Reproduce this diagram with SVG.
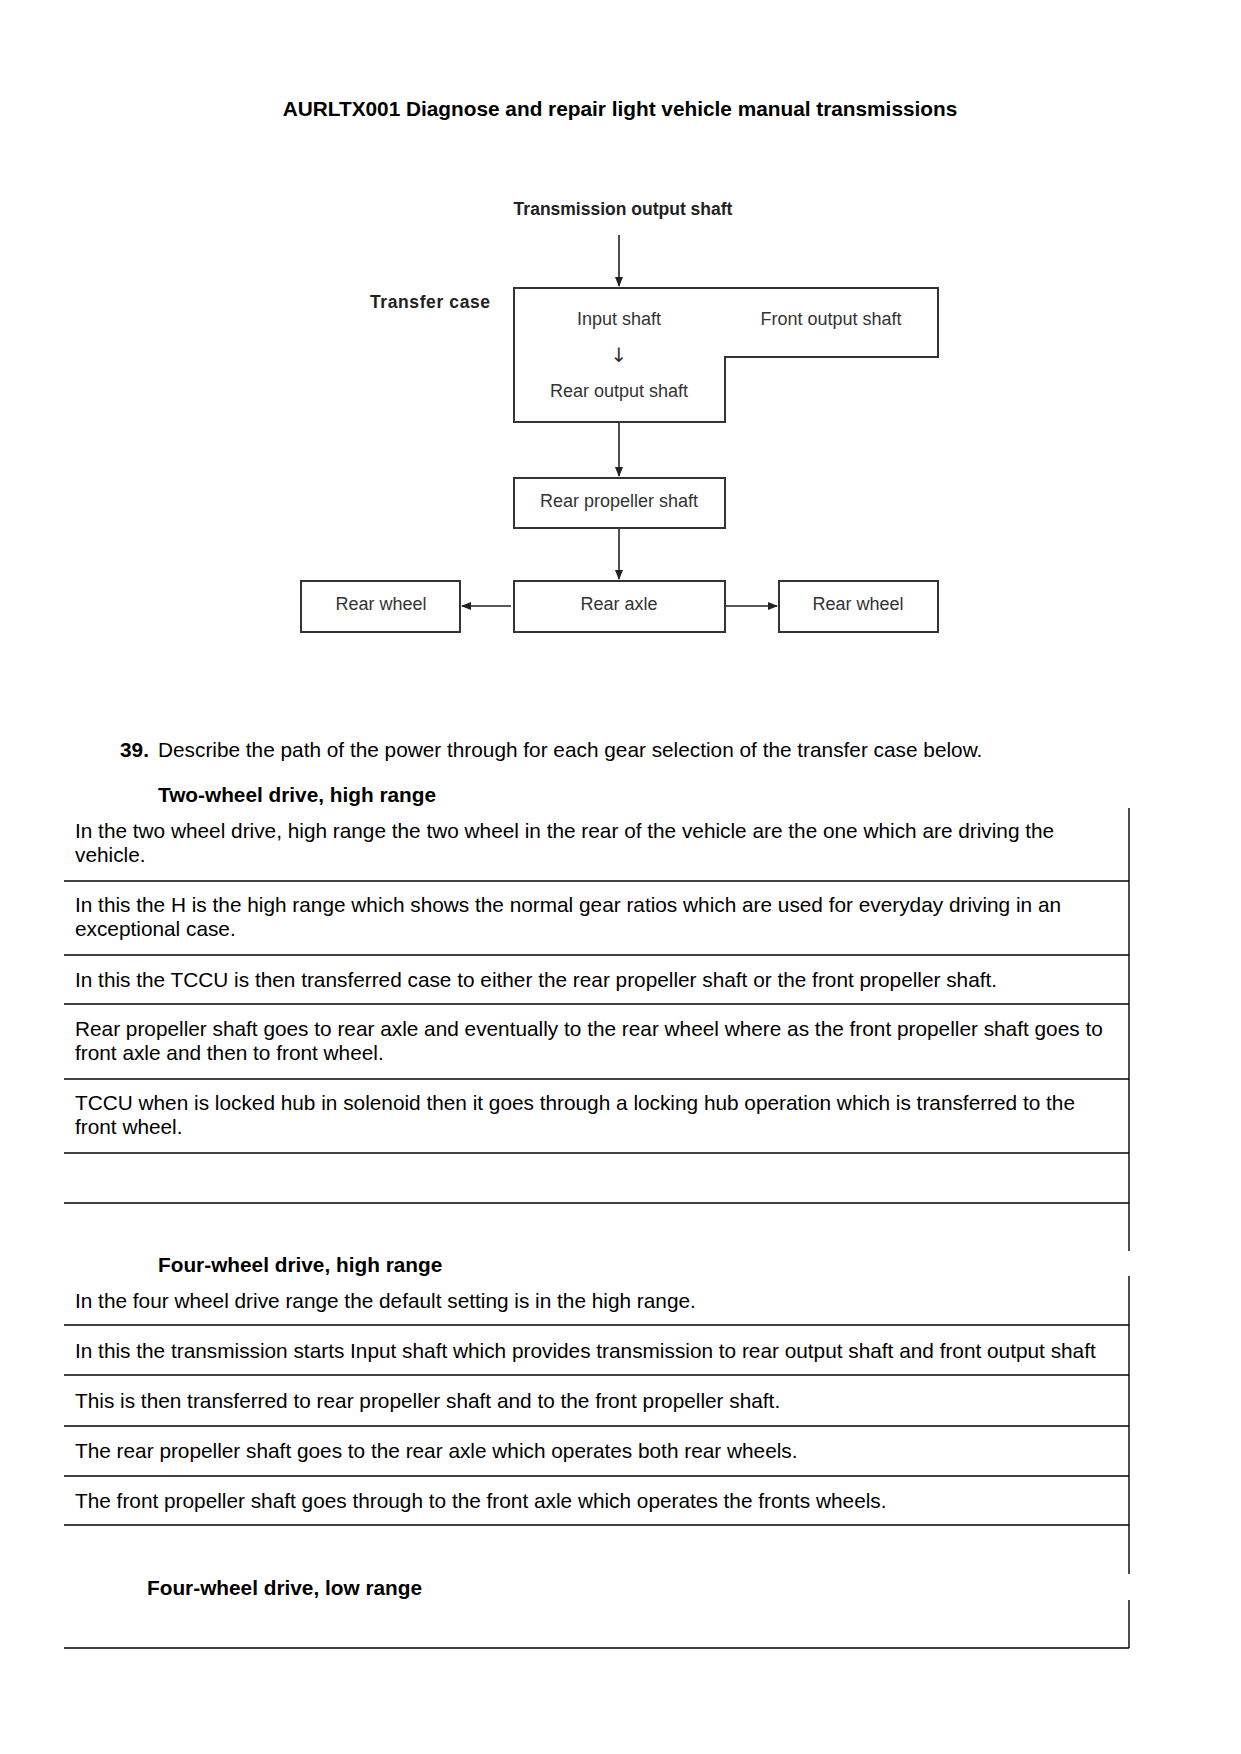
<svg xmlns="http://www.w3.org/2000/svg" width="1241" height="1754" viewBox="0 0 1241 1754">
<style>
.title{font-family:"Liberation Sans",Arial,sans-serif;font-weight:bold;font-size:20.8px;fill:#000}
.body{font-family:"Liberation Sans",Arial,sans-serif;font-size:20.8px;fill:#000}
.bold{font-family:"Liberation Sans",Arial,sans-serif;font-weight:bold;font-size:20.8px;fill:#000}
.dl{font-family:"Liberation Sans",Arial,sans-serif;font-size:18px;fill:#333}
.db{font-family:"Liberation Sans",Arial,sans-serif;font-weight:bold;font-size:17.5px;fill:#222}
.box{fill:none;stroke:#333;stroke-width:2}
.conn{stroke:#222;stroke-width:1.6;fill:none}
.rule{stroke:#000;stroke-width:1.4}
</style>
<defs>
<marker id="ah" markerWidth="10" markerHeight="8" refX="9" refY="4" orient="auto" markerUnits="userSpaceOnUse">
<path d="M0,0 L10,4 L0,8 z" fill="#222"/>
</marker>
</defs>
<rect width="1241" height="1754" fill="#fff"/>
<text class="title" x="620" y="116" text-anchor="middle">AURLTX001 Diagnose and repair light vehicle manual transmissions</text>

<g id="label-transmission"><text class="db" x="623" y="215" text-anchor="middle">Transmission output shaft</text></g>
<g id="label-transfer"><text class="db" x="370" y="308" letter-spacing="0.6">Transfer  case</text></g>
<g id="transfer-case">
<path class="box" d="M514,288 H938 V357 H725 V422 H514 Z"/>
<text class="dl" x="619" y="325" text-anchor="middle">Input shaft</text>
<text x="619" y="362" text-anchor="middle" style="font-family:'DejaVu Sans',sans-serif;font-size:20px;fill:#333">↓</text>
<text class="dl" x="619" y="397" text-anchor="middle">Rear output shaft</text>
<text class="dl" x="831" y="325" text-anchor="middle">Front output shaft</text>
</g>
<g id="rear-propeller"><rect class="box" x="514" y="478" width="211" height="50"/><text class="dl" x="619" y="507" text-anchor="middle">Rear propeller shaft</text></g>
<g id="rear-axle"><rect class="box" x="514" y="581" width="211" height="51"/><text class="dl" x="619" y="610" text-anchor="middle">Rear axle</text></g>
<g id="rear-wheel-left"><rect class="box" x="301" y="581" width="159" height="51"/><text class="dl" x="381" y="610" text-anchor="middle">Rear wheel</text></g>
<g id="rear-wheel-right"><rect class="box" x="779" y="581" width="159" height="51"/><text class="dl" x="858" y="610" text-anchor="middle">Rear wheel</text></g>
<g id="connectors">
<line class="conn" x1="619" y1="235" x2="619" y2="286" marker-end="url(#ah)"/>
<line class="conn" x1="619" y1="423" x2="619" y2="476" marker-end="url(#ah)"/>
<line class="conn" x1="619" y1="529" x2="619" y2="579" marker-end="url(#ah)"/>
<line class="conn" x1="511" y1="606" x2="462" y2="606" marker-end="url(#ah)"/>
<line class="conn" x1="726" y1="606" x2="777" y2="606" marker-end="url(#ah)"/>
</g>

<text class="bold" x="120" y="757">39.</text>
<text class="body" x="158" y="757">Describe the path of the power through for each gear selection of the transfer case below.</text>

<text class="bold" x="158" y="802">Two-wheel drive, high range</text>
<g id="table1">
<line class="rule" x1="1129" y1="808" x2="1129" y2="1251"/>
<line class="rule" x1="64" y1="881" x2="1129" y2="881"/>
<line class="rule" x1="64" y1="955" x2="1129" y2="955"/>
<line class="rule" x1="64" y1="1004" x2="1129" y2="1004"/>
<line class="rule" x1="64" y1="1079" x2="1129" y2="1079"/>
<line class="rule" x1="64" y1="1153" x2="1129" y2="1153"/>
<line class="rule" x1="64" y1="1203" x2="1129" y2="1203"/>
<text class="body" x="75" y="838">In the two wheel drive, high range the two wheel in the rear of the vehicle are the one which are driving the</text>
<text class="body" x="75" y="862">vehicle.</text>
<text class="body" x="75" y="912">In this the H is the high range which shows the normal gear ratios which are used for everyday driving in an</text>
<text class="body" x="75" y="936">exceptional case.</text>
<text class="body" x="75" y="987">In this the TCCU is then transferred case to either the rear propeller shaft or the front propeller shaft.</text>
<text class="body" x="75" y="1036">Rear propeller shaft goes to rear axle and eventually to the rear wheel where as the front propeller shaft goes to</text>
<text class="body" x="75" y="1060">front axle and then to front wheel.</text>
<text class="body" x="75" y="1110">TCCU when is locked hub in solenoid then it goes through a locking hub operation which is transferred to the</text>
<text class="body" x="75" y="1134">front wheel.</text>
</g>

<text class="bold" x="158" y="1272">Four-wheel drive, high range</text>
<g id="table2">
<line class="rule" x1="1129" y1="1276" x2="1129" y2="1574"/>
<line class="rule" x1="64" y1="1325" x2="1129" y2="1325"/>
<line class="rule" x1="64" y1="1375" x2="1129" y2="1375"/>
<line class="rule" x1="64" y1="1426" x2="1129" y2="1426"/>
<line class="rule" x1="64" y1="1476" x2="1129" y2="1476"/>
<line class="rule" x1="64" y1="1525" x2="1129" y2="1525"/>
<text class="body" x="75" y="1308">In the four wheel drive range the default setting is in the high range.</text>
<text class="body" x="75" y="1358">In this the transmission starts Input shaft which provides transmission to rear output shaft and front output shaft</text>
<text class="body" x="75" y="1408">This is then transferred to rear propeller shaft and to the front propeller shaft.</text>
<text class="body" x="75" y="1458">The rear propeller shaft goes to the rear axle which operates both rear wheels.</text>
<text class="body" x="75" y="1508">The front propeller shaft goes through to the front axle which operates the fronts wheels.</text>
</g>

<text class="bold" x="147" y="1595">Four-wheel drive, low range</text>
<g id="table3">
<line class="rule" x1="1129" y1="1600" x2="1129" y2="1648"/>
<line class="rule" x1="64" y1="1648" x2="1129" y2="1648"/>
</g>
</svg>
